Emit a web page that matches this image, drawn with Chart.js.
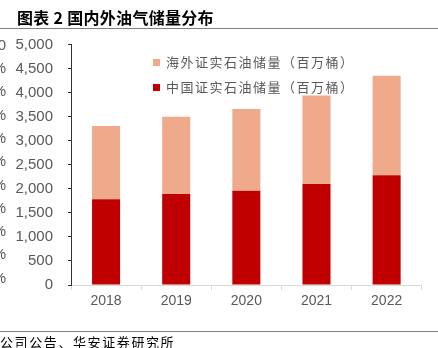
<!DOCTYPE html>
<html><head><meta charset="utf-8">
<script src="https://cdn.jsdelivr.net/npm/chart.js@4"></script>
<style>
html,body{margin:0;padding:0;background:#fff;}
#wrap{position:relative;width:438px;height:348px;overflow:hidden;}
#c{position:absolute;left:0;top:0;}
.title{position:absolute;left:17px;top:6px;font:bold 16px "Noto Sans CJK SC";letter-spacing:0.3px;color:#000;white-space:nowrap;line-height:22px;}
.hline{position:absolute;left:0;width:438px;height:1px;background:#808080;}
.foot{position:absolute;left:0;top:333px;font:13px "Noto Sans CJK SC";letter-spacing:1.6px;color:#000;white-space:nowrap;line-height:18px;}
.leg{position:absolute;left:153px;font:13px "Noto Sans CJK SC";color:#595959;white-space:nowrap;letter-spacing:1.5px;line-height:18px;}
.leg i{display:inline-block;width:7px;height:7px;margin-right:6px;vertical-align:middle;position:relative;top:-1px;}
.cut{position:absolute;right:432px;font:15px "Liberation Sans";color:#595959;white-space:nowrap;line-height:18px;}
</style></head>
<body><div id="wrap">
<canvas id="c" width="438" height="348"></canvas>
<div class="title">图表 2 国内外油气储量分布</div>
<div class="hline" style="top:28px"></div>
<div class="hline" style="top:331px"></div>
<div class="foot">公司公告、华安证券研究所</div>
<div id="legend"></div>
<div id="cuts"></div>
</div>
<script>
const years = ['2018','2019','2020','2021','2022'];
const chinaReserves = [1785, 1895, 1960, 2100, 2285];
const overseasReserves = [1525, 1605, 1700, 1845, 2070];
const chinaLabel = '中国证实石油储量（百万桶）';
const overseasLabel = '海外证实石油储量（百万桶）';
const leftCutLabels = ['100','90%','80%','70%','60%','50%','40%','30%','20%','10%','0%'];

const chinaColor = '#C00000';
const overseasColor = '#EFAA8B';

// legend (overseas first, like reference)
const legItems = [[overseasLabel, overseasColor, 53],[chinaLabel, chinaColor, 78]];
const legDiv = document.getElementById('legend');
legItems.forEach(([t,c,top])=>{
  const d=document.createElement('div'); d.className='leg'; d.style.top=top+'px';
  d.innerHTML='<i style="background:'+c+'"></i>'+t; legDiv.appendChild(d);
});
// clipped axis labels from neighbouring chart
const cuts=document.getElementById('cuts');
leftCutLabels.forEach((t,i)=>{
  const d=document.createElement('div'); d.className='cut';
  d.style.top=(44.7+i*23.3-9)+'px'; d.textContent=t; cuts.appendChild(d);
});

new Chart(document.getElementById('c'), {
  type:'bar',
  data:{labels:years, datasets:[
    {label:chinaLabel, data:chinaReserves, backgroundColor:chinaColor, barPercentage:0.4, categoryPercentage:1},
    {label:overseasLabel, data:overseasReserves, backgroundColor:overseasColor, barPercentage:0.4, categoryPercentage:1}
  ]},
  options:{
    responsive:false, animation:false,
    layout:{padding:{top:44.7, right:16.3, bottom:0, left:0}},
    plugins:{legend:{display:false}, tooltip:{enabled:false}},
    scales:{
      x:{stacked:true,
        afterFit:s=>{s.height=63;},
        grid:{drawOnChartArea:false, tickLength:5, color:'#d9d9d9', offset:true},
        border:{color:'#d9d9d9', width:1},
        ticks:{color:'#595959', font:{family:'Liberation Sans', size:14}, padding:3}
      },
      y:{stacked:true, min:0, max:5000,
        afterFit:s=>{s.width=71;},
        grid:{drawOnChartArea:false, tickLength:3, color:'#333'},
        border:{color:'#333', width:1},
        ticks:{stepSize:500, color:'#595959', font:{family:'Liberation Sans', size:15}, padding:15,
          callback:v=>v.toLocaleString('en-US')}
      }
    }
  }
});
</script>
</body></html>
